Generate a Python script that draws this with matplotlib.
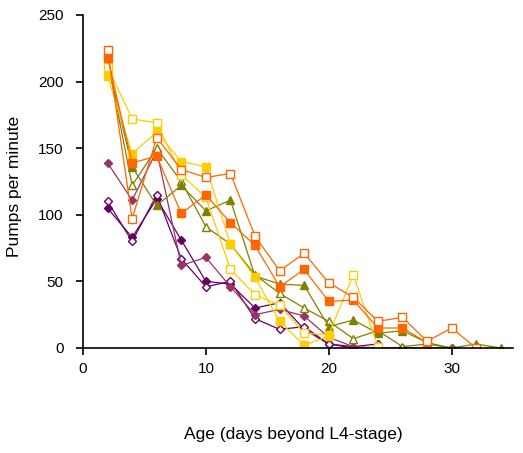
import matplotlib.pyplot as plt

plt.rcParams['font.family'] = ['Liberation Sans', 'DejaVu Sans']

days = [2, 4, 6, 8, 10, 12, 14, 16, 18, 20, 22, 24, 26, 28, 30, 32, 34]

# each worm series (None = no point)
open_orange = [224, 97, 158, 134, 128, 131, 84, 58, 71, 49, 38, 20, 23, 5, 15, 0]
filled_orange = [218, 139, 144, 101, 115, 94, 77, 46, 59, 35, 36, 15, 15, 4]
open_yellow = [211, 172, 169, 130, 113, 59, 40, 32, 11, 10, 55, 1]
filled_yellow = [204, 146, 162, 140, 136, 78, 53, 20, 2, 9]
open_olive = [216, 122, 150, 125, 91, 78, 55, 41, 30, 20, 7, 13, 1, 3, 0]
filled_olive = [214, 136, 107, 122, 103, 111, 54, 48, 47, 16, 21, 11, 13, 4, 0, 3, 0]
filled_magenta = [139, 111, 148, 62, 68, 46, 25, 29, 24, 8, 1, 0]
filled_purple = [105, 83, 112, 81, 50, 48, 30, 34, 14, 3, 0, 0, 0, 0, 0]
open_purple = [110, 80, 115, 67, 46, 50, 22, 14, 16, 3, 1, 3]

ORANGE = '#FF6600'
YELLOW = '#FFCC00'
OLIVE = '#808000'
MAGENTA = '#993366'
PURPLE = '#660066'

series = [
    (filled_purple, PURPLE, 'D', True),
    (open_purple, PURPLE, 'D', False),
    (filled_magenta, MAGENTA, 'D', True),
    (open_olive, OLIVE, '^', False),
    (filled_olive, OLIVE, '^', True),
    (open_yellow, YELLOW, 's', False),
    (filled_yellow, YELLOW, 's', True),
    (filled_orange, ORANGE, 's', True),
    (open_orange, ORANGE, 's', False),
]

fig = plt.figure(figsize=(5.23, 4.53), dpi=100)
ax = fig.add_axes([0.1587, 0.2318, 0.8223, 0.7351])

for vals, col, mk, filled in series:
    x = days[:len(vals)]
    ms = 4.5 if mk == 'D' else 5.5
    ax.plot(x, vals, color=col, lw=0.9, marker=mk, markersize=ms,
            markerfacecolor=col if filled else 'white',
            markeredgecolor=col, markeredgewidth=1.0)

ax.set_xlim(0, 35)
ax.set_ylim(0, 250)
ax.set_xticks([0, 10, 20, 30])
ax.set_yticks([0, 50, 100, 150, 200, 250])
ax.spines['top'].set_visible(False)
ax.spines['right'].set_visible(False)
ax.spines['left'].set_linewidth(1.2)
ax.spines['bottom'].set_linewidth(1.2)
ax.tick_params(direction='out', length=5, width=1.2, labelsize=11, colors='black')
ax.tick_params(axis='y', pad=9)
ax.tick_params(axis='x', pad=5)

ax.set_ylabel('Pumps per minute', fontsize=12.5)
ax.yaxis.set_label_coords(-0.142, 0.486)
ax.set_xlabel('Age (days beyond L4-stage)', fontsize=12.5, va='center')
ax.xaxis.set_label_coords(0.49, -0.26)

fig.savefig('out.png', dpi=100)
